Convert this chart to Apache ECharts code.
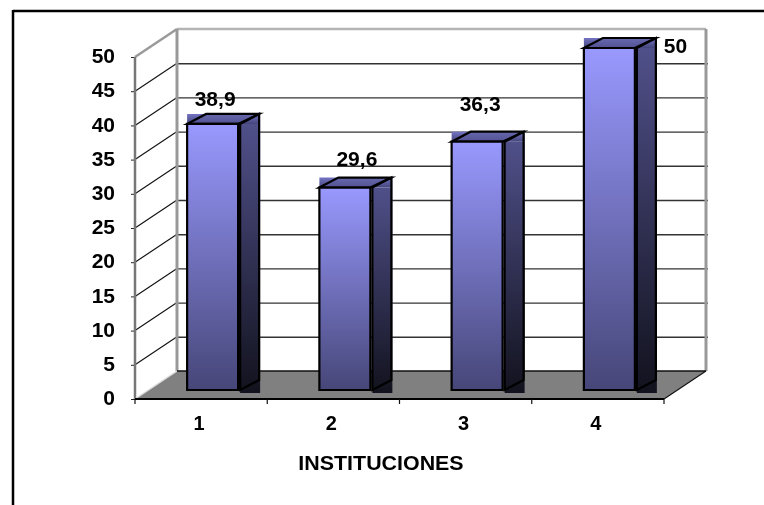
<!doctype html>
<html>
<head>
    <title>Instituciones</title>
    <script src="https://cdn.jsdelivr.net/npm/echarts@6/dist/echarts.min.js"></script>
</head>
<style>
    html, body { margin: 0; background: #fff; }
    #main { width: 764px; height: 505px; }
</style>
<body>
<div id="main"></div>
<script>
  var categories = ['1', '2', '3', '4'];
  var values = [38.9, 29.6, 36.3, 50];
  var valueLabels = ['38,9', '29,6', '36,3', '50'];
  var yTicks = [0, 5, 10, 15, 20, 25, 30, 35, 40, 45, 50];

  // offset of the back wall from the front plane, and of the bars inside the box
  var wallDx = 42, wallDy = -28;
  var barDx = 11.5, barDy = -9, barHalf = 25.5, sideGap = 2, sideDx = 19, sideDy = -10;
  // the value labels were placed by hand in the original, so each has its own nudge
  var labelNudge = [[2.5, -24], [12, -27], [3, -37], [66, -1]];
  var font = '"Liberation Sans", Arial, sans-serif';

  function line(x1, y1, x2, y2, color, width) {
    return {
      type: 'line',
      shape: { x1: x1, y1: y1, x2: x2, y2: y2 },
      style: { stroke: color, lineWidth: width }
    };
  }

  function poly(points, fill, stroke, width) {
    return {
      type: 'polygon',
      shape: { points: points },
      style: { fill: fill, stroke: stroke || null, lineWidth: width || 0, lineJoin: 'miter' }
    };
  }

  function vgrad(a, b) {
    return new echarts.graphic.LinearGradient(0, 0, 0, 1, [
      { offset: 0, color: a },
      { offset: 1, color: b }
    ]);
  }

  // walls, floor, gridlines and y labels of the 3D box
  function renderBox(params, api) {
    var x0 = params.coordSys.x;
    var x1 = x0 + params.coordSys.width;
    var base = api.coord([0, 0])[1];
    var top = api.coord([0, 50])[1];
    var kids = [];
    yTicks.forEach(function (t) {
      var y = api.coord([0, t])[1];
      if (t > 0 && t < 50) {
        kids.push(line(x0, y, x0 + wallDx, y + wallDy, '#111', 1.2));
        kids.push(line(x0 + wallDx, y + wallDy + 0.5, x1 + wallDx + 2, y + wallDy + 0.5, '#333', 1.4));
      }
      kids.push(line(x0 - 4, y + 0.5, x0, y + 0.5, '#222', 1));
      kids.push({
        type: 'text',
        x: x0 - 20,
        y: y + 0.5,
        style: {
          text: String(t), fill: '#000',
          font: 'bold 21px ' + font,
          textAlign: 'right', textVerticalAlign: 'middle'
        }
      });
    });
    kids.push(poly([[x0, base], [x0 + wallDx, base + wallDy], [x1 + wallDx, base + wallDy], [x1, base]], '#808080'));
    kids.push(line(x0, top, x0 + wallDx, top + wallDy, '#999', 2.5));
    kids.push(line(x0 + wallDx, top + wallDy, x1 + wallDx, top + wallDy, '#b4b4b4', 2.5));
    kids.push(line(x0 + wallDx, top + wallDy, x0 + wallDx, base + wallDy, '#999', 3));
    kids.push(line(x1 + wallDx, top + wallDy, x1 + wallDx, base + wallDy, '#999', 3));
    kids.push(line(x0, top, x0, base, '#777', 2.5));
    kids.push(line(x0, base, x0 + wallDx, base + wallDy, '#ddd', 1.5));
    kids.push(line(x0 + wallDx, base + wallDy, x1 + wallDx, base + wallDy, '#111', 1.5));
    kids.push(line(x1, base, x1 + wallDx, base + wallDy, '#111', 1.2));
    kids.push(line(x0, base, x1, base, '#000', 2));
    for (var i = 0; i <= categories.length; i++) {
      var tx = x0 + (x1 - x0) * i / categories.length;
      kids.push(line(tx, base, tx, base + 5, '#111', 1.2));
    }
    return { type: 'group', children: kids };
  }

  function renderBar(params, api) {
    var front = api.coord([api.value(0), api.value(1)]);
    var zero = api.coord([api.value(0), 0]);
    var l = front[0] + barDx - barHalf;
    var r = front[0] + barDx + barHalf;
    var t = front[1] + barDy;
    var b = zero[1] + barDy;
    var i = params.dataIndex;
    var sl = r + sideGap;
    var kids = [
      // flat rectangles behind the top and the side, as in the source picture
      { type: 'rect', shape: { x: l, y: t + sideDy, width: sl + sideDx - l + 1, height: -sideDy },
        style: { fill: vgrad('#7474c4', '#45457c') } },
      { type: 'rect', shape: { x: sl, y: t, width: sideDx + 1, height: b - t + 3 },
        style: { fill: vgrad('#50508a', '#12121e') } },
      poly([[l, t], [l + sideDx, t + sideDy], [sl + sideDx, t + sideDy], [r, t]], vgrad('#6a6ab0', '#4f4f90'), '#000', 2.2),
      poly([[sl, t], [sl + sideDx, t + sideDy], [sl + sideDx, b + sideDy], [sl, b]], null, '#000', 2.2),
      { type: 'rect', shape: { x: l, y: t, width: r - l, height: b - t },
        style: { fill: vgrad('#9999ff', '#464678'), stroke: '#000', lineWidth: 2.2 } }
    ];
    kids.push({
      type: 'text',
      x: front[0] + barDx + labelNudge[i][0],
      y: t + labelNudge[i][1],
      style: {
        text: valueLabels[i], fill: '#000',
        font: 'bold 21px ' + font,
        textAlign: 'center', textVerticalAlign: 'middle'
      }
    });
    return { type: 'group', children: kids };
  }

  var myChart = echarts.init(document.getElementById('main'));
  myChart.setOption({
    animation: false,
    grid: { left: 135, right: 100, top: 57, bottom: 106, containLabel: false },
    xAxis: {
      type: 'category',
      data: categories,
      axisLine: { show: false },
      axisTick: { show: false },
      axisLabel: { color: '#000', fontFamily: font, fontWeight: 'bold', fontSize: 20, margin: 8, padding: [0, 4, 0, 0] }
    },
    yAxis: {
      type: 'value',
      min: 0,
      max: 50,
      interval: 5,
      axisLine: { show: false },
      axisTick: { show: false },
      splitLine: { show: false },
      axisLabel: { show: false }
    },
    graphic: [
      { type: 'line', shape: { x1: 13, y1: 11, x2: 764, y2: 11 }, style: { stroke: '#000', lineWidth: 2.5 } },
      { type: 'line', shape: { x1: 13, y1: 10, x2: 13, y2: 505 }, style: { stroke: '#000', lineWidth: 2.5 } },
      { type: 'text', x: 381, y: 464, scaleX: 1.07,
        style: { text: 'INSTITUCIONES', fill: '#000', font: 'bold 20px ' + font, textAlign: 'center', textVerticalAlign: 'middle' } }
    ],
    series: [
      { type: 'custom', coordinateSystem: 'cartesian2d', data: [[0, 0]], renderItem: renderBox, silent: true, z: 1 },
      { type: 'custom', coordinateSystem: 'cartesian2d',
        data: values.map(function (v, i) { return [i, v]; }),
        encode: { x: 0, y: 1 }, renderItem: renderBar, silent: true, z: 2 }
    ]
  });
</script>
</body>
</html>
